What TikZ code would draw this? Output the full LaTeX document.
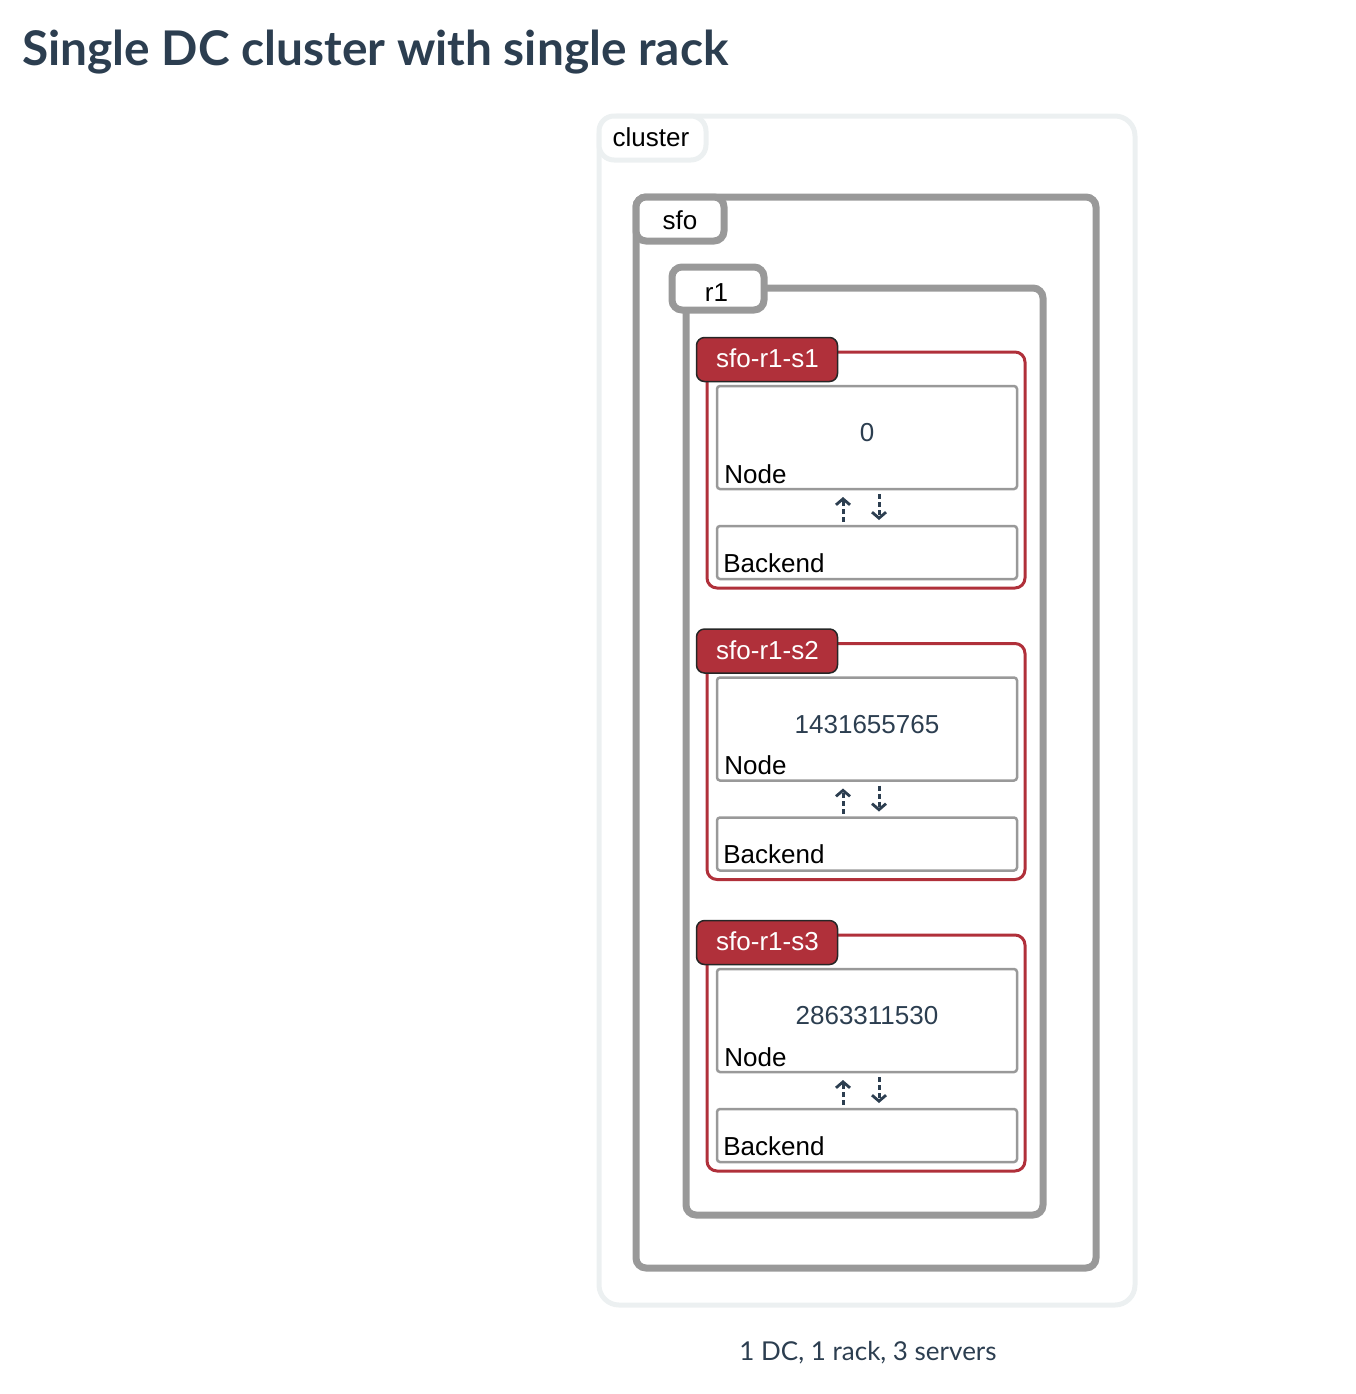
\documentclass[tikz,border=0pt]{standalone}
\usepackage{fontspec}
\setmainfont{Liberation Sans}
\newfontfamily\latofont{Lato}
\usetikzlibrary{arrows.meta}
\definecolor{slate}{HTML}{2C3E50}
\definecolor{clgray}{HTML}{ECF0F1}
\definecolor{rackgray}{HTML}{999999}
\definecolor{srvred}{HTML}{B0303A}
\tikzset{
  frame/.style={draw, rectangle, inner sep=0pt, outer sep=0pt},
  txt/.style={font=\fontsize{13}{15}\selectfont},
  clusterbox/.style={frame, draw=clgray, line width=2.5pt, rounded corners=10pt},
  clustertab/.style={frame, draw=clgray, fill=white, line width=2.5pt, rounded corners=7.5pt},
  groupbox/.style={frame, draw=rackgray, line width=3.5pt, rounded corners=5pt},
  grouptab/.style={frame, draw=rackgray, fill=white, line width=3.5pt, rounded corners=5pt},
  serverbox/.style={frame, draw=srvred, line width=1.5pt, rounded corners=5pt},
  servertab/.style={frame, draw=black!85, fill=srvred, line width=0.75pt, rounded corners=4pt},
  partbox/.style={frame, draw=rackgray, line width=1.25pt, rounded corners=1.5pt},
  plain/.style={txt, inner sep=0pt},
  flow/.style={draw=slate, line width=1.5pt, dash pattern=on 2.5pt off 1.5pt,
    -{Straight Barb[length=3pt, width=7pt, line width=1.4pt]}},
}
\begin{document}
\begin{tikzpicture}[x=0.5pt, y=-0.5pt]
  \useasboundingbox (0,0) rectangle (1356,1394);

  % heading
  \node[anchor=base west, inner sep=0pt, text=slate,
        font=\latofont\bfseries\fontsize{23.9}{28}\selectfont] (title) at (22,65)
        {Single DC cluster with single rack};

  % cluster
  \node[clusterbox, minimum width=268pt, minimum height=594.5pt] (cluster) at (867,710.5) {};
  \node[clustertab, minimum width=53.5pt, minimum height=22pt] (clustertag) at (652.5,138) {};
  \node[plain] (clusterlbl) at (651,137) {cluster};

  % data centre sfo
  \node[groupbox, minimum width=230pt, minimum height=535.5pt] (sfo) at (866,732.5) {};
  \node[grouptab, minimum width=44pt, minimum height=22pt] (sfotag) at (680,219) {};
  \node[plain] (sfolbl) at (680,220.5) {sfo};

  % rack r1
  \node[groupbox, minimum width=178.5pt, minimum height=463.5pt] (rack) at (864.5,751.5) {};
  \node[grouptab, minimum width=46pt, minimum height=21.5pt] (racktag) at (718,288.5) {};
  \node[plain] (racklbl) at (716.5,292.5) {r1};

  % servers
  \foreach \i/\tok in {1/0, 2/1431655765, 3/2863311530} {
    \pgfmathsetmacro{\dy}{(\i-1)*291.5}
    \node[serverbox, minimum width=159pt, minimum height=118pt] (srv\i) at (866,470+\dy) {};
    \node[servertab, minimum width=70.5pt, minimum height=22pt] (srvtag\i) at (767,359.5+\dy) {};
    \node[plain, text=white] (srvlbl\i) at (767.5,358.5+\dy) {sfo-r1-s\i};
    \node[partbox, minimum width=150pt, minimum height=51.5pt] (nd\i) at (867,437.5+\dy) {};
    \node[partbox, minimum width=150pt, minimum height=26.5pt] (be\i) at (867,552.5+\dy) {};
    \node[plain, text=slate] (tok\i) at (867,433+\dy) {\tok};
    \node[plain, anchor=west] (ndlbl\i) at (724,474+\dy) {Node};
    \node[plain, anchor=west] (belbl\i) at (723,563+\dy) {Backend};
    \draw[flow, shorten <=2pt, shorten >=4pt] ([xshift=-12pt]be\i.north) -- ([xshift=-12pt]nd\i.south);
    \draw[flow, shorten <=2.5pt, shorten >=3pt] ([xshift=6pt]nd\i.south) -- ([xshift=6pt]be\i.north);
  }

  % caption
  \node[anchor=base, inner sep=0pt, text=slate,
        font=\latofont\fontsize{13}{15}\selectfont] (caption) at (868,1360)
        {1 DC, 1 rack, 3 servers};
\end{tikzpicture}
\end{document}
